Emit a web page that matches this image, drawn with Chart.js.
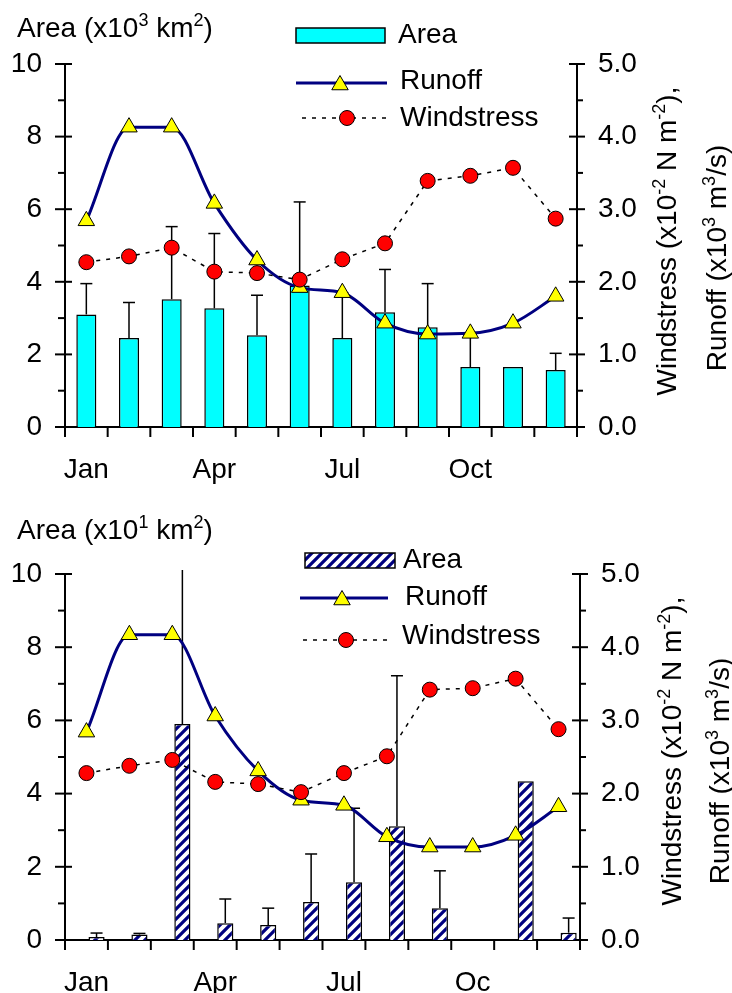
<!DOCTYPE html>
<html>
<head>
<meta charset="utf-8">
<script src="https://cdn.jsdelivr.net/npm/chart.js@4.4.1/dist/chart.umd.min.js"></script>
<style>
  html, body { margin: 0; padding: 0; background: #fff; }
  #wrap { position: relative; width: 732px; height: 993px; }
  .panel { position: absolute; left: 0; width: 732px; }
</style>
</head>
<body>
<div id="wrap">
  <div class="panel" style="top:0;height:495px"><canvas id="topChart" width="732" height="495"></canvas></div>
  <div class="panel" style="top:495px;height:498px"><canvas id="botChart" width="732" height="498"></canvas></div>
</div>
<script>
// ---- data ----
const months = ['Jan','Feb','Mar','Apr','May','Jun','Jul','Aug','Sep','Oct','Nov','Dec'];
const tickNamesTop = ['Jan','','','Apr','','','Jul','','','Oct','',''];
const tickNamesBot = ['Jan','','','Apr','','','Jul','','','Oc','',''];

// upper panel: area (x10^3 km2), upper end of error bar, runoff & windstress (right axis)
const areaTop    = [3.10, 2.45, 3.52, 3.27, 2.53, 3.90, 2.45, 3.16, 2.75, 1.65, 1.65, 1.57];
const areaTopHi  = [3.95, 3.43, 5.52, 5.33, 3.63, 6.20, 3.70, 4.34, 3.95, 2.55, null, 2.03];
const runoffTop  = [2.84, 4.13, 4.13, 3.08, 2.30, 1.92, 1.85, 1.43, 1.28, 1.29, 1.43, 1.80];
const windTop    = [2.27, 2.35, 2.47, 2.14, 2.12, 2.03, 2.31, 2.53, 3.39, 3.46, 3.57, 2.87];

// lower panel: area (x10^1 km2)
const areaBot    = [0.08, 0.15, 5.90, 0.46, 0.41, 1.04, 1.58, 3.11, 0.87, null, 4.34, 0.20];
const areaBotHi  = [0.19, 0.18, 10.4, 1.12, 0.87, 2.35, 3.60, 7.22, 1.89, null, null, 0.60];
const runoffBot  = [2.84, 4.17, 4.17, 3.06, 2.31, 1.91, 1.84, 1.41, 1.27, 1.27, 1.43, 1.82];
const windBot    = [2.28, 2.38, 2.46, 2.16, 2.13, 2.02, 2.28, 2.51, 3.42, 3.44, 3.57, 2.88];
const emptySlot  = [null, null, null, null, null, null, null, null, null, null, null, null];

const FONT = '"Liberation Sans", Arial, Helvetica, sans-serif';
const MAIN = '28px ' + FONT;
const SUP = '18px ' + FONT;
Chart.defaults.font.family = FONT;
Chart.defaults.font.size = 28;
Chart.defaults.color = '#000';

// diagonal hatch for the lower panel bars
function makeHatch() {
  const c = document.createElement('canvas');
  c.width = 10; c.height = 10;
  const g = c.getContext('2d');
  g.fillStyle = '#fff';
  g.fillRect(0, 0, 10, 10);
  g.strokeStyle = '#000080';
  g.lineWidth = 3.2;
  g.beginPath();
  g.moveTo(-5, 5); g.lineTo(5, -5);
  g.moveTo(0, 10); g.lineTo(10, 0);
  g.moveTo(5, 15); g.lineTo(15, 5);
  g.stroke();
  return document.createElement('canvas').getContext('2d').createPattern(c, 'repeat');
}

// text with superscripts: parts = [[text, isSup], ...]
function richWidth(ctx, parts) {
  let w = 0;
  parts.forEach(([t, sup]) => { ctx.font = sup ? SUP : MAIN; w += ctx.measureText(t).width; });
  return w;
}
function drawRich(ctx, parts, x, y) {
  let cx = x;
  parts.forEach(([t, sup]) => {
    ctx.font = sup ? SUP : MAIN;
    ctx.fillText(t, cx, sup ? y - 11 : y);
    cx += ctx.measureText(t).width;
  });
}
function line(ctx, x1, y1, x2, y2) {
  ctx.beginPath(); ctx.moveTo(x1, y1); ctx.lineTo(x2, y2); ctx.stroke();
}
function triangle(ctx, x, y, r) {
  ctx.beginPath();
  ctx.moveTo(x, y - r);
  ctx.lineTo(x + r * 0.866, y + r * 0.5);
  ctx.lineTo(x - r * 0.866, y + r * 0.5);
  ctx.closePath();
  ctx.fillStyle = '#ffff00'; ctx.fill();
  ctx.strokeStyle = '#000'; ctx.lineWidth = 1; ctx.stroke();
}
function dot(ctx, x, y, r) {
  ctx.beginPath(); ctx.arc(x, y, r, 0, Math.PI * 2);
  ctx.fillStyle = '#ff0000'; ctx.fill();
  ctx.strokeStyle = '#000'; ctx.lineWidth = 1; ctx.stroke();
}

// axes, ticks, error bars, legend and titles
const decoPlugin = {
  id: 'deco',
  beforeDatasetsDraw(chart) {
    const { ctx, chartArea: a, scales } = chart;
    ctx.save();
    ctx.strokeStyle = '#000';
    ctx.lineWidth = 2;
    line(ctx, a.left, a.top, a.left, a.bottom);
    line(ctx, a.right, a.top, a.right, a.bottom);
    line(ctx, a.left, a.bottom, a.right, a.bottom);
    for (let v = 0; v <= 10; v++) {
      const y = scales.y.getPixelForValue(v);
      if (v % 2 === 0) line(ctx, a.left - 10, y, a.left + 7, y);
      else line(ctx, a.left - 7, y, a.left, y);
    }
    for (let k = 0; k <= 10; k++) {
      const y = scales.y1.getPixelForValue(k / 2);
      if (k % 2 === 0) line(ctx, a.right - 8, y, a.right + 8, y);
      else line(ctx, a.right, y, a.right + 6, y);
    }
    for (let i = 0; i <= months.length; i++) {
      const x = scales.x.getPixelForDecimal(i / months.length);
      line(ctx, x, a.bottom, x, a.bottom + 10);
    }
    ctx.restore();
  },
  afterDatasetDraw(chart, args, opts) {
    if (chart.data.datasets[args.index].label !== 'Area') return;
    const { ctx, chartArea: a, scales } = chart;
    const meta = args.meta;
    const vals = chart.data.datasets[args.index].data;
    ctx.save();
    ctx.beginPath();
    ctx.rect(a.left, a.top - 4, a.right - a.left, a.bottom - a.top + 4);
    ctx.clip();
    ctx.strokeStyle = '#000';
    ctx.lineWidth = 1.5;
    opts.hi.forEach((hi, i) => {
      if (hi == null || vals[i] == null) return;
      const x = meta.data[i].x;
      const y0 = scales.y.getPixelForValue(vals[i]);
      const y1 = scales.y.getPixelForValue(hi);
      line(ctx, x, y0, x, y1);
      line(ctx, x - 6, y1, x + 6, y1);
    });
    ctx.restore();
  },
  afterDraw(chart, args, o) {
    const ctx = chart.ctx;
    ctx.save();
    ctx.fillStyle = '#000';
    ctx.textBaseline = 'alphabetic';
    // left axis title
    drawRich(ctx, o.leftTitle, 17, o.titleY);
    // right axis titles (rotated)
    o.rightTitles.forEach(t => {
      ctx.save();
      ctx.translate(t.x, t.y);
      ctx.rotate(-Math.PI / 2);
      ctx.fillStyle = '#000';
      const w = richWidth(ctx, t.parts);
      drawRich(ctx, t.parts, -w / 2, 10);
      ctx.restore();
    });
    // legend
    const L = o.legend;
    ctx.fillStyle = o.fill;
    ctx.fillRect(L.box[0], L.box[1], L.box[2], 15);
    ctx.strokeStyle = '#000'; ctx.lineWidth = 1.5;
    ctx.strokeRect(L.box[0], L.box[1], L.box[2], 15);
    ctx.strokeStyle = '#000080'; ctx.lineWidth = 3;
    line(ctx, L.run[0], L.run[2], L.run[1], L.run[2]);
    triangle(ctx, L.run[3], L.run[2] + 2, 9.5);
    ctx.strokeStyle = '#000'; ctx.lineWidth = 1.5; ctx.setLineDash([4, 6]);
    line(ctx, L.wind[0], L.wind[2], L.wind[1], L.wind[2]);
    ctx.setLineDash([]);
    dot(ctx, L.wind[3], L.wind[2], 7.5);
    ctx.fillStyle = '#000';
    ctx.font = MAIN;
    ctx.textBaseline = 'middle';
    L.text.forEach(([s, x, y]) => ctx.fillText(s, x, y));
    ctx.restore();
  }
};

function makePanel(id, p) {
  const barSets = [];
  if (p.gap) {
    // empty left slot so the hatched bars sit right of the month centre
    barSets.push({ type: 'bar', label: 'gap', data: emptySlot, backgroundColor: 'rgba(0,0,0,0)',
      yAxisID: 'y', order: 0, barPercentage: p.barPct, categoryPercentage: p.catPct });
  }
  barSets.push({ type: 'bar', label: 'Area', data: p.area, backgroundColor: p.fill, borderColor: '#000',
    borderWidth: 1.5, yAxisID: 'y', order: 3, barPercentage: p.barPct, categoryPercentage: p.catPct });

  return new Chart(document.getElementById(id), {
    type: 'bar',
    data: {
      labels: months,
      datasets: barSets.concat([
        { type: 'line', label: 'Runoff', data: p.runoff, yAxisID: 'y1', order: 2,
          borderColor: '#000080', borderWidth: 3, cubicInterpolationMode: 'monotone',
          pointStyle: 'triangle', pointRadius: 9.5, pointBackgroundColor: '#ffff00',
          pointBorderColor: '#000', pointBorderWidth: 1, clip: false },
        { type: 'line', label: 'Windstress', data: p.wind, yAxisID: 'y1', order: 1,
          borderColor: '#000', borderWidth: 1.5, borderDash: [4, 6],
          pointStyle: 'circle', pointRadius: 7.5, pointBackgroundColor: '#ff0000',
          pointBorderColor: '#000', pointBorderWidth: 1, clip: false }
      ])
    },
    options: {
      responsive: false,
      animation: false,
      layout: { padding: { top: p.top, left: 0, right: 0, bottom: 0 } },
      scales: {
        x: {
          type: 'category', offset: true,
          grid: { display: false, drawTicks: false }, border: { display: false },
          ticks: { autoSkip: false, maxRotation: 0, padding: 26, color: '#000',
                   callback: (v, i) => p.tickNames[i] },
          afterFit: s => { s.height = p.xH; }
        },
        y: {
          position: 'left', min: 0, max: 10,
          grid: { display: false, drawTicks: false }, border: { display: false },
          ticks: { stepSize: 2, padding: 23, color: '#000' },
          afterFit: s => { s.width = 65; }
        },
        y1: {
          position: 'right', min: 0, max: 5,
          grid: { display: false, drawTicks: false }, border: { display: false },
          ticks: { stepSize: 1, padding: 21, color: '#000', callback: v => v.toFixed(1) },
          afterFit: s => { s.width = p.rightW; }
        }
      },
      plugins: {
        legend: { display: false },
        tooltip: { enabled: false },
        deco: p.deco
      }
    },
    plugins: [decoPlugin]
  });
}

const windTitle = [['Windstress (x10', false], ['-2', true], [' N m', false], ['-2', true], ['),', false]];
const runTitle = [['Runoff (x10', false], ['3', true], [' m', false], ['3', true], ['/s)', false]];

makePanel('topChart', {
  area: areaTop, runoff: runoffTop, wind: windTop, tickNames: tickNamesTop,
  fill: '#00ffff', barPct: 0.47, catPct: 1.0, top: 64, xH: 68, rightW: 155,
  deco: {
    hi: areaTopHi,
    fill: '#00ffff',
    leftTitle: [['Area (x10', false], ['3', true], [' km', false], ['2', true], [')', false]],
    titleY: 37,
    rightTitles: [{ x: 666, y: 241, parts: windTitle }, { x: 716, y: 258, parts: runTitle }],
    legend: {
      box: [296, 28, 89],
      run: [296, 387, 83, 340],
      wind: [302, 387, 118, 347],
      text: [['Area', 398, 35], ['Runoff', 400, 81], ['Windstress', 400, 118]]
    }
  }
});

const hatch = makeHatch();
makePanel('botChart', {
  area: areaBot, runoff: runoffBot, wind: windBot, tickNames: tickNamesBot, gap: true,
  fill: hatch, barPct: 0.8, catPct: 0.94, top: 79, xH: 53, rightW: 152,
  deco: {
    hi: areaBotHi,
    fill: hatch,
    leftTitle: [['Area (x10', false], ['1', true], [' km', false], ['2', true], [')', false]],
    titleY: 44,
    rightTitles: [{ x: 671, y: 256, parts: windTitle }, { x: 719, y: 276, parts: runTitle }],
    legend: {
      box: [305, 58, 90],
      run: [300, 388, 103, 342],
      wind: [303, 388, 145, 346],
      text: [['Area', 403, 65], ['Runoff', 405, 102], ['Windstress', 402, 141]]
    }
  }
});
</script>
</body>
</html>
